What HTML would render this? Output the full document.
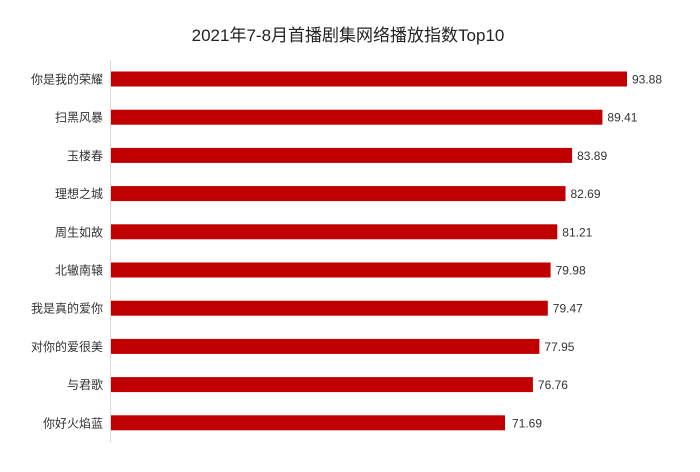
<!DOCTYPE html>
<html><head><meta charset="utf-8"><style>body{margin:0;background:#fff}</style></head><body>
<svg width="700" height="467" xmlns="http://www.w3.org/2000/svg" font-family="Liberation Sans, Noto Sans CJK SC, sans-serif">
<rect width="700" height="467" fill="#fff"/>
<text x="348" y="41" font-size="17" text-anchor="middle" fill="#222">2021年7-8月首播剧集网络播放指数Top10</text>
<line x1="110.5" y1="60" x2="110.5" y2="442" stroke="#d9d9d9" stroke-width="1"/>
<g font-size="12" fill="#333">
<rect x="111" y="71.5" width="516" height="15" fill="#c00000"/><text x="103" y="83.5" text-anchor="end">你是我的荣耀</text><text x="632" y="83.5">93.88</text>
<rect x="111" y="109.7" width="491.4" height="15" fill="#c00000"/><text x="103" y="121.7" text-anchor="end">扫黑风暴</text><text x="607.4" y="121.7">89.41</text>
<rect x="111" y="147.9" width="461.1" height="15" fill="#c00000"/><text x="103" y="159.9" text-anchor="end">玉楼春</text><text x="577.1" y="159.9">83.89</text>
<rect x="111" y="186.1" width="454.5" height="15" fill="#c00000"/><text x="103" y="198.1" text-anchor="end">理想之城</text><text x="570.5" y="198.1">82.69</text>
<rect x="111" y="224.3" width="446.3" height="15" fill="#c00000"/><text x="103" y="236.3" text-anchor="end">周生如故</text><text x="562.3" y="236.3">81.21</text>
<rect x="111" y="262.5" width="439.6" height="15" fill="#c00000"/><text x="103" y="274.5" text-anchor="end">北辙南辕</text><text x="555.6" y="274.5">79.98</text>
<rect x="111" y="300.7" width="436.8" height="15" fill="#c00000"/><text x="103" y="312.7" text-anchor="end">我是真的爱你</text><text x="552.8" y="312.7">79.47</text>
<rect x="111" y="338.9" width="428.4" height="15" fill="#c00000"/><text x="103" y="350.9" text-anchor="end">对你的爱很美</text><text x="544.4" y="350.9">77.95</text>
<rect x="111" y="377.1" width="421.9" height="15" fill="#c00000"/><text x="103" y="389.1" text-anchor="end">与君歌</text><text x="537.9" y="389.1">76.76</text>
<rect x="111" y="415.3" width="394" height="15" fill="#c00000"/><text x="103" y="427.3" text-anchor="end">你好火焰蓝</text><text x="512" y="427.3">71.69</text>
</g>
</svg>
</body></html>
